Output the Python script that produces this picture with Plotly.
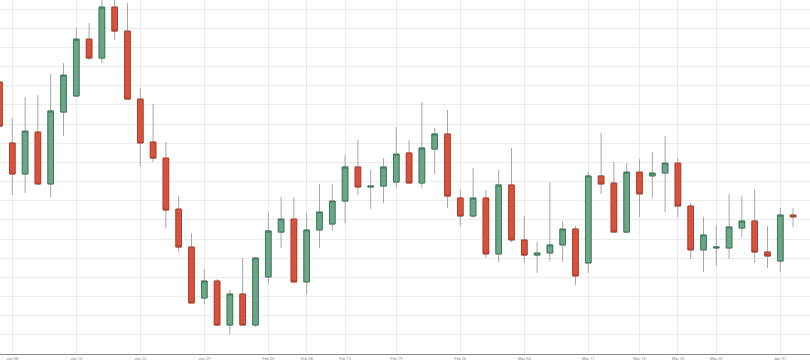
import pandas as pd
import plotly.graph_objects as go

dates = [d.strftime("%Y-%m-%d") for d in pd.bdate_range("2024-01-05", periods=63)]

open_ = [154.19, 151.01, 149.39, 151.58, 148.87, 152.62, 153.46, 156.43, 155.44, 158.10,
         156.85, 153.30, 151.06, 150.22, 147.56, 145.58, 142.92, 143.81, 141.51, 143.13,
         141.51, 144.02, 146.36, 147.04, 143.76, 146.47, 146.78, 147.98, 149.76, 148.71,
         148.76, 148.97, 150.49, 148.92, 150.69, 151.48, 148.14, 147.20, 148.14, 145.22,
         148.82, 145.95, 145.16, 145.27, 145.69, 146.52, 144.75, 149.29, 148.92, 146.36,
         149.49, 149.29, 149.44, 149.96, 147.72, 145.43, 145.53, 145.53, 146.57, 146.94,
         145.32, 144.85, 147.25]
high = [154.40, 152.31, 153.41, 153.51, 154.61, 155.18, 157.01, 157.27, 158.73, 158.62,
        158.31, 153.88, 153.04, 151.06, 148.24, 146.31, 144.43, 143.91, 143.34, 145.01,
        145.01, 147.41, 148.19, 148.19, 147.36, 148.87, 148.87, 150.38, 151.16, 149.60,
        150.22, 151.84, 151.16, 153.15, 151.79, 152.73, 148.56, 149.70, 148.56, 149.60,
        150.75, 147.20, 145.84, 148.97, 146.94, 146.68, 149.49, 151.53, 150.02, 149.96,
        150.17, 150.54, 151.37, 150.22, 147.88, 147.15, 146.73, 148.35, 148.24, 148.61,
        146.68, 147.62, 147.62]
low = [151.69, 148.29, 148.40, 148.87, 148.19, 151.37, 153.41, 155.34, 155.18, 156.38,
       153.30, 149.76, 150.02, 146.57, 145.32, 142.66, 142.61, 141.46, 141.04, 141.51,
       141.41, 143.65, 145.53, 143.70, 143.13, 145.53, 146.47, 146.83, 148.29, 147.56,
       147.88, 148.66, 148.92, 148.66, 149.39, 147.62, 146.68, 147.09, 145.01, 144.80,
       145.84, 144.75, 144.23, 144.85, 144.80, 143.60, 144.23, 148.35, 146.36, 146.36,
       147.15, 148.14, 147.41, 147.15, 144.96, 144.28, 144.59, 144.96, 146.10, 144.75,
       144.49, 144.28, 146.63]
close = [151.89, 149.39, 151.63, 148.87, 152.68, 154.55, 156.43, 155.44, 158.10, 156.85,
         153.30, 151.01, 150.22, 147.51, 145.58, 142.66, 143.81, 141.51, 143.13, 141.51,
         145.01, 146.42, 147.04, 143.76, 146.47, 147.41, 147.98, 149.76, 148.71, 148.76,
         149.76, 150.43, 148.92, 150.75, 151.48, 148.24, 147.20, 148.14, 145.22, 148.82,
         145.95, 145.16, 145.27, 145.69, 146.52, 144.07, 149.29, 148.87, 146.36, 149.49,
         148.35, 149.44, 149.96, 147.72, 145.43, 146.21, 145.58, 146.63, 146.94, 145.32,
         145.11, 147.25, 147.15]

tick_idx = [1, 6, 11, 16, 21, 24, 27, 31, 36, 41, 46, 50, 53, 56, 61]
tick_vals = [dates[i] for i in tick_idx]
tick_text = [pd.Timestamp(d).strftime("%b %d") for d in tick_vals]

body_hi = [max(o, c) for o, c in zip(open_, close)]
body_lo = [min(o, c) for o, c in zip(open_, close)]

WICK = "#a6a6a6"
fig = go.Figure()
# wicks
fig.add_trace(go.Candlestick(
    x=dates, open=open_, high=high, low=low, close=close,
    increasing=dict(line=dict(color=WICK, width=1), fillcolor=WICK),
    decreasing=dict(line=dict(color=WICK, width=1), fillcolor=WICK),
    whiskerwidth=0, hoverinfo="skip", showlegend=False))
# bodies
fig.add_trace(go.Candlestick(
    x=dates, open=open_, high=body_hi, low=body_lo, close=close,
    increasing=dict(line=dict(color="#3e7a5a", width=1), fillcolor="#6aa787"),
    decreasing=dict(line=dict(color="#a8412f", width=1), fillcolor="#db503b"),
    whiskerwidth=0, hoverinfo="skip", showlegend=False))

fig.update_layout(
    width=810, height=360,
    margin=dict(l=0, r=0, t=0, b=6),
    paper_bgcolor="white", plot_bgcolor="white",
    boxgap=0.37, boxmode="overlay",
    showlegend=False,
    xaxis=dict(type="category", range=[0.04, 63.32], rangeslider=dict(visible=False),
               tickvals=tick_vals, ticktext=tick_text,
               showgrid=True, gridcolor="#ebebeb", gridwidth=1,
               showline=True, linecolor="#8c8c8c", linewidth=1,
               ticks="", ticklabelstandoff=0,
               tickfont=dict(size=4, color="#8a8a8a", family="Roboto"),
               automargin=False, zeroline=False),
    yaxis=dict(range=[140, 158.47], dtick=1, tick0=140,
               showgrid=True, gridcolor="#ebebeb", gridwidth=1,
               showticklabels=False, zeroline=False, showline=False,
               automargin=False),
)

fig.write_html("out.html", config={"displayModeBar": False},
               post_script="document.body.style.margin='0';document.body.style.overflow='hidden';")
